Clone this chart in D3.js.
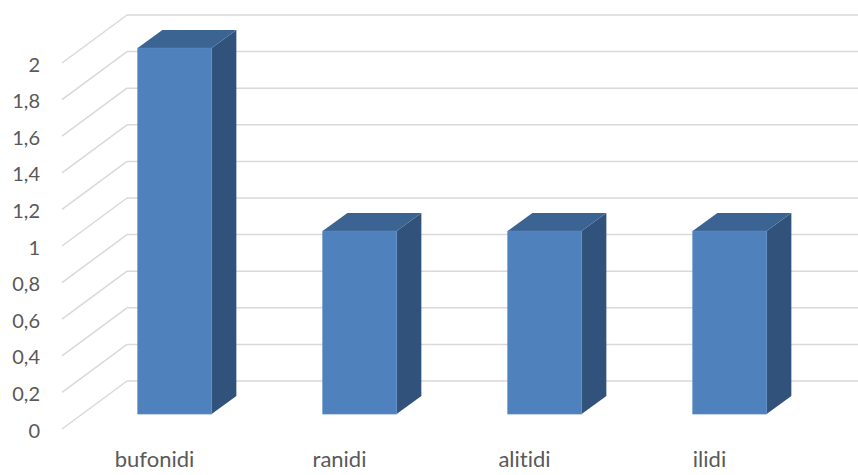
<!DOCTYPE html>
<html>
<head>
<meta charset="utf-8">
<script src="https://cdn.jsdelivr.net/npm/d3@7/dist/d3.min.js"></script>
<style>
  html, body { margin: 0; padding: 0; background: #ffffff; }
  svg { display: block; }
  .tick text { font-family: Lato, "Open Sans", sans-serif; fill: #595959; font-variant-ligatures: none; font-feature-settings: "liga" 0, "clig" 0; }
</style>
</head>
<body>
<svg id="chart" width="858" height="475"></svg>
<script>
// Data
const categories = ["bufonidi", "ranidi", "alitidi", "ilidi"];
const values = [2, 1, 1, 1];
const yTicks = [0, 0.2, 0.4, 0.6, 0.8, 1, 1.2, 1.4, 1.6, 1.8, 2];

const W = 858, H = 475;
const svg = d3.select("#chart");

// Front plane of the 3D box and the depth offset to the back wall
const frontLeft = 62, frontRight = 802;
const depthDX = 65, depthDY = -48;

const y = d3.scaleLinear().domain([0, 2]).range([429, 63]);
const x = d3.scaleBand()
  .domain(categories)
  .range([frontLeft, frontRight])
  .paddingInner(0.6)
  .paddingOuter(0.3);

// project a front-plane point to a given depth (0 = front, 1 = back wall)
const proj = (px, py, d) => [px + depthDX * d, py + depthDY * d];

// Gridlines: diagonal on the side wall, then horizontal on the back wall
const grid = svg.append("g").attr("class", "grid");
yTicks.forEach(v => {
  const [x0, y0] = proj(frontLeft, y(v), 0);
  const [x1, y1] = proj(frontLeft, y(v), 1);
  grid.append("line")
    .attr("x1", x0).attr("y1", y0).attr("x2", x1).attr("y2", y1)
    .attr("stroke", "#d9d9d9").attr("stroke-width", 1.5);
  grid.append("line")
    .attr("x1", x1).attr("y1", y1).attr("x2", W).attr("y2", y1)
    .attr("stroke", "#d9d9d9").attr("stroke-width", 1.5);
});

// Bars as boxes sitting in the middle of the depth
const dFront = 0.31, dBack = 0.69;
const colFront = "#4f81bd", colTop = "#3c6493", colSide = "#30527b";
const bars = svg.append("g").attr("class", "bars");
const pts = a => a.map(p => p.join(",")).join(" ");

categories.forEach((c, i) => {
  const xl = x(c), xr = x(c) + x.bandwidth();
  const yt = y(values[i]), yb = y(0);
  const g = bars.append("g");
  // side face
  g.append("polygon")
    .attr("points", pts([proj(xr, yt, dFront), proj(xr, yt, dBack), proj(xr, yb, dBack), proj(xr, yb, dFront)]))
    .attr("fill", colSide);
  // top face
  g.append("polygon")
    .attr("points", pts([proj(xl, yt, dFront), proj(xl, yt, dBack), proj(xr, yt, dBack), proj(xr, yt, dFront)]))
    .attr("fill", colTop);
  // front face
  g.append("polygon")
    .attr("points", pts([proj(xl, yt, dFront), proj(xr, yt, dFront), proj(xr, yb, dFront), proj(xl, yb, dFront)]))
    .attr("fill", colFront)
    .attr("stroke", "#5a8ac4").attr("stroke-width", 0.6);
});

// Axes
const locale = d3.formatLocale({ decimal: ",", thousands: ".", grouping: [3], currency: ["", "€"] });
const fmt = locale.format("~g");

const yAxis = svg.append("g")
  .attr("transform", `translate(${frontLeft},0)`)
  .call(d3.axisLeft(y).tickValues(yTicks).tickFormat(fmt).tickSize(0).tickPadding(22));
yAxis.select(".domain").remove();
yAxis.selectAll("text").attr("font-size", 20).attr("dy", null).attr("y", 8);

const xAxis = svg.append("g")
  .attr("transform", `translate(0,${y(0)})`)
  .call(d3.axisBottom(x).tickSize(0));
xAxis.select(".domain").remove();
xAxis.selectAll("text").attr("font-size", 22).attr("dy", null).attr("y", 38);
</script>
</body>
</html>
